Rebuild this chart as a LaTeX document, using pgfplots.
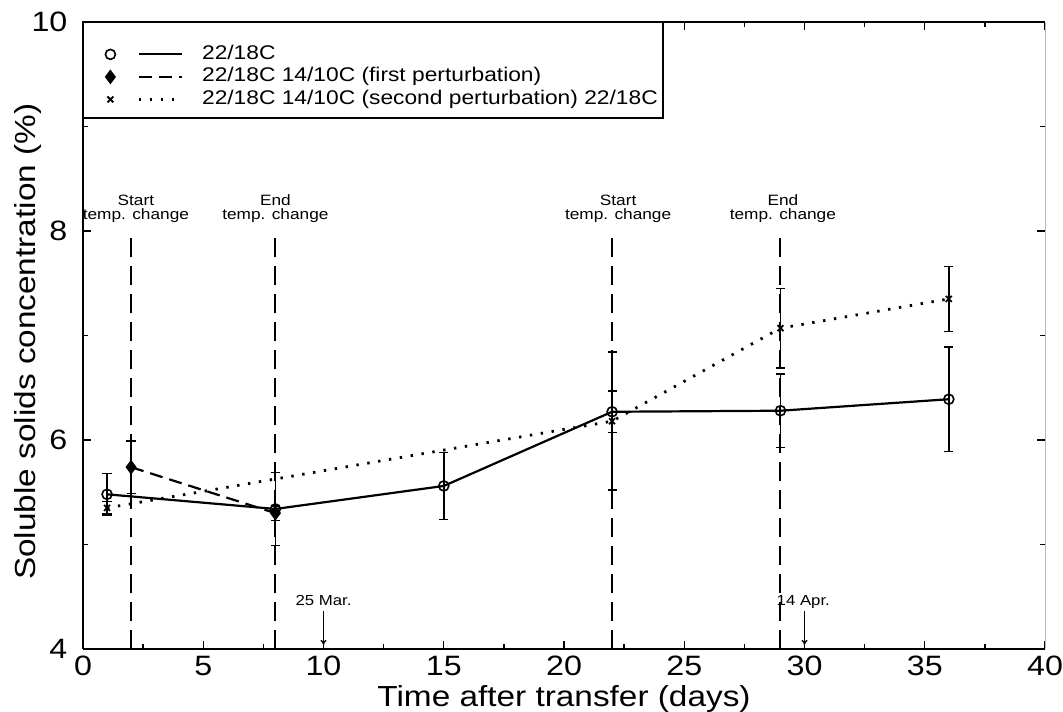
\documentclass[border=0pt]{standalone}
\usepackage{fontspec}
\setmainfont{Liberation Sans}[FakeStretch=1.15]
\usepackage{pgfplots}
\usepackage{pgfplotstable}
\pgfplotsset{compat=1.18}
\usetikzlibrary{calc,arrows.meta}

\pgfplotstableread{
x y e
1 5.48 0.20
8 5.34 0.35
15 5.56 0.32
22 6.27 0.20
29 6.28 0.35
36 6.39 0.50
}\solidtab

\pgfplotstableread{
x y e
2 5.74 0.25
8 5.30 0.07
}\firsttab

\pgfplotstableread{
x y e
1 5.35 0.06
22 6.18 0.66
29 7.07 0.38
36 7.35 0.31
}\secondtab

\begin{document}
\begin{tikzpicture}
\begin{axis}[
  scale only axis, width=481pt, height=313.5pt,
  xmin=0, xmax=40, ymin=4, ymax=10,
  xtick={0,5,...,40}, ytick={4,6,8,10},
  minor x tick num=1, minor y tick num=1,
  tick align=inside,
  major tick length=4pt, minor tick length=2.5pt,
  tick style={black, line width=0.7pt},
  axis line style={draw=none},
  clip=false,
  /pgf/number format/assume math mode=true,
  ticklabel style={font=\fontsize{14}{16}\selectfont},
  yticklabel style={xshift=-4.3pt},
  xlabel={Time after transfer (days)},
  ylabel={Soluble solids concentration (\%)},
  label style={font=\fontsize{14.5}{17}\selectfont},
  xlabel style={at={(axis description cs:0.5,-0.0925)}, anchor=base},
  ylabel style={at={(axis description cs:-0.049,0.49)}, anchor=base},
  legend style={at={(axis description cs:0,1)}, anchor=north west,
    xshift=11pt, yshift=-11pt, draw=none, fill=none, inner sep=0pt,
    font=\fontsize{9.9}{12}\selectfont,
    nodes={inner sep=0pt, text height=7.5pt, text depth=2.5pt},
    row sep=1.25pt, column sep=9.5pt},
  legend cell align=left,
  legend image code/.code={
    \draw[#1, mark=none] (14.15pt,0pt) -- (35.65pt,0pt);
    \draw[#1] plot coordinates {(0pt,0pt)};
  },
  error bars/error bar style={solid, line width=0.75pt},
  error bars/error mark options={solid, line width=0.75pt, mark size=2.3pt, rotate=90},
]
% frame
\draw[line width=0.9pt] (rel axis cs:0,0) -- (rel axis cs:0,1) -- (rel axis cs:1,1);
\draw[line width=0.9pt] (rel axis cs:0,0) -- (rel axis cs:1,0);
\draw[line width=0.5pt, gray!55] (rel axis cs:1,0) -- (rel axis cs:1,1);
% legend box
\draw[line width=0.9pt, fill=white] (axis cs:0,10) rectangle (axis cs:24.12,9.08);

% vertical markers
\addplot[forget plot, black, line width=1pt, dash pattern=on 9.5pt off 4.5pt] coordinates {(2,7.93) (2,4)};
\addplot[forget plot, black, line width=1pt, dash pattern=on 9.5pt off 4.5pt] coordinates {(8,7.93) (8,4)};
\addplot[forget plot, black, line width=1pt, dash pattern=on 9.5pt off 4.5pt] coordinates {(22,7.93) (22,4)};
\addplot[forget plot, black, line width=1pt, dash pattern=on 9.5pt off 4.5pt] coordinates {(29,7.93) (29,4)};

\node[font=\fontsize{7.5}{7}\selectfont, align=center, anchor=south, inner sep=0pt] at (axis cs:2.2,8.077) {Start\\temp. change};
\node[font=\fontsize{7.5}{7}\selectfont, align=center, anchor=south, inner sep=0pt] at (axis cs:8.0,8.077) {End\\temp. change};
\node[font=\fontsize{7.5}{7}\selectfont, align=center, anchor=south, inner sep=0pt] at (axis cs:22.25,8.077) {Start\\temp. change};
\node[font=\fontsize{7.5}{7}\selectfont, align=center, anchor=south, inner sep=0pt] at (axis cs:29.1,8.077) {End\\temp. change};

% date arrows
\addplot[forget plot, black, line width=0.7pt, -{To[length=2.5pt,width=3pt]}] coordinates {(10,4.36) (10,4.04)};
\addplot[forget plot, black, line width=0.7pt, -{To[length=2.5pt,width=3pt]}] coordinates {(30,4.36) (30,4.04)};
\node[font=\fontsize{7.3}{8}\selectfont, anchor=base, inner sep=0pt] at (axis cs:10,4.42) {25 Mar.};
\node[font=\fontsize{7.3}{8}\selectfont, anchor=base, inner sep=0pt] at (axis cs:29.95,4.42) {14 Apr.};

% series
\addplot[black, line width=1.1pt, mark=o, mark size=2.5pt, mark options={solid, line width=0.8pt},
  error bars/.cd, y dir=both, y explicit]
  table[x=x, y=y, y error=e] {\solidtab};
\addlegendentry{22/18C}

\addplot[black, line width=1.1pt, dash pattern=on 6.5pt off 3.5pt, mark=diamond*, mark size=2.8pt, mark options={solid, fill=black},
  error bars/.cd, y dir=both, y explicit]
  table[x=x, y=y, y error=e] {\firsttab};
\addlegendentry{22/18C 14/10C (first perturbation)}

\addplot[black, line width=1.4pt, dash pattern=on 1.2pt off 4.3pt, mark=x, mark size=2.1pt, mark options={solid, line width=0.9pt},
  error bars/.cd, y dir=both, y explicit]
  table[x=x, y=y, y error=e] {\secondtab};
\addlegendentry{22/18C 14/10C (second perturbation) 22/18C}
\end{axis}
\pgfresetboundingbox
\path[use as bounding box] ($(current axis.south west)+(-41.5pt,-31.5pt)$) rectangle ($(current axis.north east)+(9pt,11pt)$);
\end{tikzpicture}
\end{document}
